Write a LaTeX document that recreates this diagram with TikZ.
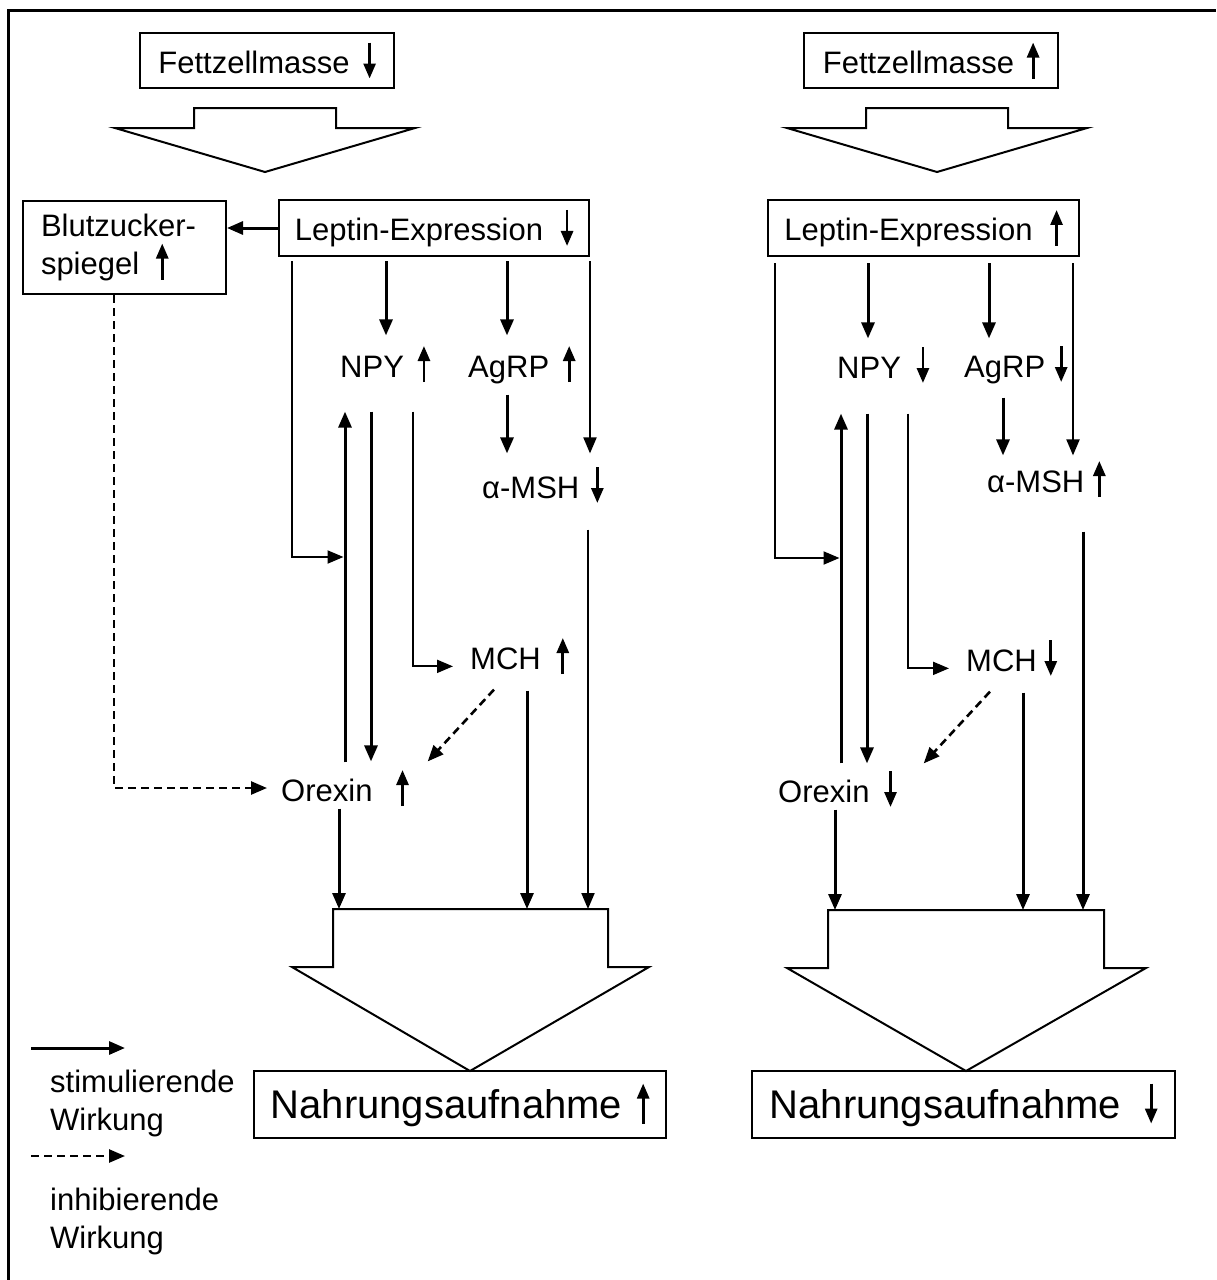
\documentclass[tikz,border=0pt]{standalone}
\usepackage{fontspec}
\setmainfont{Liberation Sans}
\usetikzlibrary{arrows.meta}

\tikzset{
  textpfeil/.style={line width=2.8pt, -{Triangle[length=15pt,width=12pt]}},
}
% kleine Pfeile im Text
\newcommand{\hoch}[1][31pt]{\tikz[baseline=0pt]\draw[textpfeil] (0pt,-5pt) -- (0pt,#1);}
\newcommand{\runter}[1][31pt]{\tikz[baseline=0pt]\draw[textpfeil] (0pt,#1) -- (0pt,-5pt);}

\begin{document}
\begin{tikzpicture}[
    x=1pt, y=-1pt,
    font=\fontsize{31}{38}\selectfont,
    >={Triangle[length=16pt,width=13pt]},
    box/.style={draw, line width=2pt, inner sep=0pt},
    lab/.style={inner sep=0pt, anchor=base west},
    stim/.style={->, line width=3pt},
    duenn/.style={->, line width=2pt},
    hemm/.style={->, line width=2.6pt, dash pattern=on 8pt off 5pt},
    block/.style={draw, line width=2pt, fill=white, line join=miter},
    gross/.style={font=\fontsize{40}{48}\selectfont}
  ]
  \useasboundingbox (0,0) rectangle (1216,1280);

  % --- RAHMEN ---
  \draw[line width=3pt] (8.5,1280) -- (8.5,10.5) -- (1216,10.5);

  % --- BLOCKPFEILE ---
  \draw[block] (194,108) -- (336,108) -- (336,128) -- (415,128) -- (265,172) -- (115,128) -- (194,128) -- cycle;
  \draw[block] (866,108) -- (1008,108) -- (1008,128) -- (1087,128) -- (937,172) -- (787,128) -- (866,128) -- cycle;
  \draw[block] (333,909) -- (608,909) -- (608,967) -- (649,967) -- (470,1071) -- (292,967) -- (333,967) -- cycle;
  \draw[block] (828,910) -- (1104,910) -- (1104,968) -- (1146,968) -- (966,1071) -- (787,968) -- (828,968) -- cycle;
  \coordinate (blockL) at (470,909);
  \coordinate (blockR) at (966,910);

  % --- LINKS: FETTZELLMASSE SINKT ---
  \node[box, minimum width=254pt, minimum height=55pt] (fettL) at (267,60.5) {Fettzellmasse\hspace{14pt}\runter};
  \node[box, minimum width=310pt, minimum height=56pt] (leptinL) at (434,228) {Leptin-Expression\hspace{18pt}\runter};
  \node[box, anchor=north west, minimum width=203pt, minimum height=93pt, text width=167pt, inner xsep=18pt, align=left] (blutL) at (22,200) {Blutzucker-\\spiegel\hspace{17pt}\hoch};
  \node[lab] (npyL) at (340,377) {NPY\hspace{14pt}\hoch};
  \node[lab] (agrpL) at (468,377) {AgRP\hspace{14pt}\hoch};
  \node[lab] (mshL) at (482,498) {α-MSH\hspace{12pt}\runter};
  \node[lab] (mchL) at (470,669) {MCH\hspace{16pt}\hoch};
  \node[lab] (orexinL) at (281,801) {Orexin\hspace{24pt}\hoch};
  \node[box, gross, minimum width=412pt, minimum height=67pt] (nahrungL) at (460,1104.5) {Nahrungsaufnahme\hspace{15pt}\hoch[35pt]};
  \coordinate (knotenL) at (345,557);

  % --- RECHTS: FETTZELLMASSE STEIGT ---
  \node[box, minimum width=254pt, minimum height=55pt] (fettR) at (931,60.5) {Fettzellmasse\hspace{13pt}\hoch};
  \node[box, minimum width=311pt, minimum height=56pt] (leptinR) at (923.5,228) {Leptin-Expression\hspace{18pt}\hoch};
  \node[lab] (npyR) at (837,378) {NPY\hspace{16pt}\runter};
  \node[lab] (agrpR) at (964,377) {AgRP\hspace{10pt}\runter};
  \node[lab] (mshR) at (987,492) {α-MSH\hspace{9pt}\hoch};
  \node[lab] (mchR) at (966,671) {MCH\hspace{8pt}\runter};
  \node[lab] (orexinR) at (778,802) {Orexin\hspace{15pt}\runter};
  \node[box, gross, minimum width=423pt, minimum height=67pt] (nahrungR) at (963.5,1104.5) {Nahrungsaufnahme\hspace{24pt}\runter[35pt]};
  \coordinate (knotenR) at (841,558);

  % --- LEGENDE ---
  \node[lab, anchor=north west, align=left] (legS) at (50,1069.5) {stimulierende\\Wirkung};
  \node[lab, anchor=north west, align=left] (legI) at (50,1187.5) {inhibierende\\Wirkung};
  \draw[stim] ([xshift=-19pt,yshift=21.5pt]legS.north west) -- ++(94,0);
  \draw[hemm] ([xshift=-19pt,yshift=31.5pt]legI.north west) -- ++(94,0);

  % --- VERBINDUNGEN LINKS ---
  \draw[stim] (leptinL.west) -- (leptinL.west -| blutL.east);
  \draw[stim, shorten <=4pt, shorten >=9pt] (leptinL.south -| 386,0) -- (npyL.north -| 386,0);
  \draw[stim, shorten <=4pt, shorten >=9pt] (leptinL.south -| 507,0) -- (agrpL.north -| 507,0);
  \draw[duenn, shorten <=4pt, shorten >=12pt] (leptinL.south -| 590,0) -- (mshL.north -| 590,0);
  \draw[stim, shorten <=11pt, shorten >=12pt] (agrpL.south -| 507,0) -- (mshL.north -| 507,0);
  \draw[duenn, shorten <=25pt] (mshL.south -| 588,0) -- (588,0 |- blockL);
  \draw[stim, shorten <=15pt] (mchL.south -| 527,0) -- (527,0 |- blockL);
  \draw[stim, shorten <=1pt] (orexinL.south -| 339,0) -- (339,0 |- blockL);
  \draw[stim, shorten <=6pt, shorten >=28pt] (orexinL.north -| 345,0) -- (npyL.south -| 345,0);
  \draw[stim, shorten <=28pt, shorten >=7pt] (npyL.south -| 371,0) -- (orexinL.north -| 371,0);
  \draw[duenn, shorten <=28pt, shorten >=17pt] (npyL.south -| 413,0) |- (mchL.mid west);
  \draw[duenn, shorten <=4pt, shorten >=1.5pt] (leptinL.south -| 292,0) |- (knotenL);
  \draw[hemm] ([xshift=24pt,yshift=-14pt]mchL.south west) -- ([xshift=19pt,yshift=7pt]orexinL.north east);
  \draw[hemm, shorten >=14pt] (blutL.south -| 114,0) |- (orexinL.west);

  % --- VERBINDUNGEN RECHTS ---
  \draw[stim, shorten <=6pt, shorten >=7pt] (leptinR.south -| 868,0) -- (npyR.north -| 868,0);
  \draw[stim, shorten <=6pt, shorten >=6pt] (leptinR.south -| 989,0) -- (agrpR.north -| 989,0);
  \draw[duenn, shorten <=6pt, shorten >=4pt] (leptinR.south -| 1073,0) -- (mshR.north -| 1073,0);
  \draw[stim, shorten <=14pt, shorten >=4pt] (agrpR.south -| 1003,0) -- (mshR.north -| 1003,0);
  \draw[stim, shorten <=33pt] (mshR.south -| 1083,0) -- (1083,0 |- blockR);
  \draw[stim, shorten <=15pt] (mchR.south -| 1023,0) -- (1023,0 |- blockR);
  \draw[stim, shorten <=1pt] (orexinR.south -| 835,0) -- (835,0 |- blockR);
  \draw[stim, shorten <=6pt, shorten >=29pt] (orexinR.north -| 841,0) -- (npyR.south -| 841,0);
  \draw[stim, shorten <=29pt, shorten >=6pt] (npyR.south -| 867,0) -- (orexinR.north -| 867,0);
  \draw[duenn, shorten <=29pt, shorten >=17pt] (npyR.south -| 908,0) |- (mchR.mid west);
  \draw[duenn, shorten <=6pt, shorten >=1.5pt] (leptinR.south -| 775,0) |- (knotenR);
  \draw[hemm] ([xshift=24pt,yshift=-14pt]mchR.south west) -- ([xshift=27pt,yshift=6pt]orexinR.north east);

\end{tikzpicture}
\end{document}
